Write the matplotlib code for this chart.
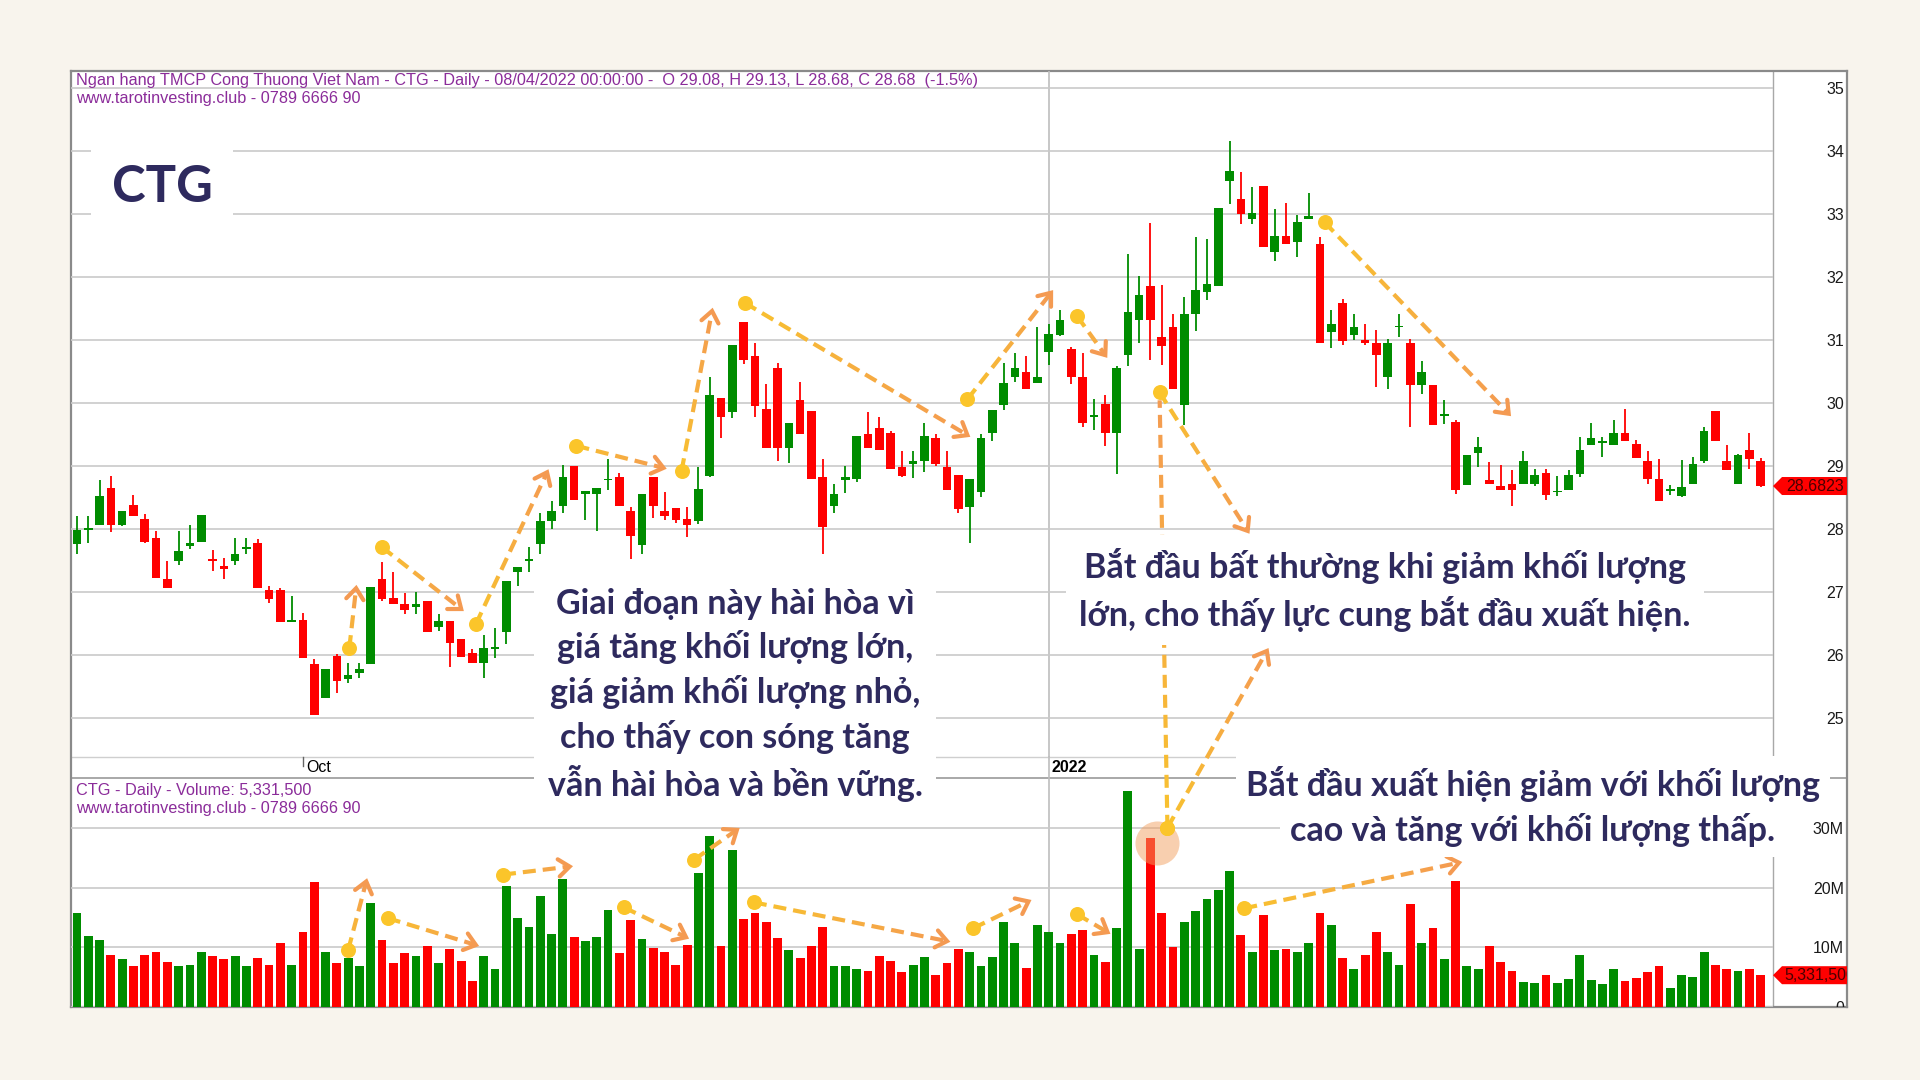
import numpy as np
import matplotlib
matplotlib.use("Agg")
import matplotlib.pyplot as plt
from matplotlib.collections import LineCollection
from matplotlib.lines import Line2D
from matplotlib.patches import Polygon
from matplotlib.transforms import IdentityTransform, blended_transform_factory
from matplotlib.colors import to_rgb

plt.rcParams['font.family'] = ['Liberation Sans', 'DejaVu Sans']

# ---- du lieu CTG: gia (nghin dong), khoi luong (trieu cp) ----
gia_mo = [27.76, 27.98, 28.06, 28.65, 28.06, 28.38, 28.16, 27.86, 27.21, 27.50,
          27.73, 27.80, 27.52, 27.42, 27.50, 27.68, 27.77, 27.03, 27.03, 26.53,
          26.55, 25.86, 25.32, 25.98, 25.62, 25.71, 25.85, 27.21, 26.90, 26.81,
          26.76, 26.85, 26.45, 26.54, 26.25, 26.03, 25.88, 26.10, 26.36, 27.32,
          27.50, 27.76, 28.12, 28.37, 29.00, 28.55, 28.55, 28.77, 28.82, 28.29,
          27.74, 28.82, 28.29, 28.34, 28.16, 28.12, 28.84, 30.08, 29.86, 31.28,
          30.74, 29.90, 30.56, 29.29, 30.05, 29.87, 28.82, 28.37, 28.78, 28.80,
          29.51, 29.60, 29.53, 28.98, 29.03, 29.08, 29.44, 28.99, 28.85, 28.35,
          28.58, 29.53, 29.97, 30.42, 30.50, 30.32, 30.81, 31.08, 30.86, 30.42,
          29.78, 29.98, 29.52, 30.76, 31.32, 31.86, 31.04, 31.21, 29.97, 31.41,
          31.76, 31.85, 33.53, 33.24, 32.92, 33.45, 32.39, 32.65, 32.56, 32.92,
          32.52, 31.12, 31.58, 31.08, 31.00, 30.95, 30.41, 31.20, 30.95, 30.29,
          30.29, 29.79, 29.70, 28.70, 29.20, 28.77, 28.68, 28.71, 28.71, 28.71,
          28.89, 28.58, 28.62, 28.88, 29.34, 29.36, 29.34, 29.53, 29.35, 29.08,
          28.79, 28.61, 28.52, 28.71, 29.08, 29.88, 29.08, 28.71, 29.25, 29.08]
gia_cao = [28.20, 28.20, 28.78, 28.84, 28.29, 28.54, 28.24, 27.97, 27.49, 27.97,
           28.06, 28.22, 27.67, 27.54, 27.85, 27.85, 27.84, 27.09, 27.06, 26.93,
           26.66, 25.93, 25.78, 26.01, 25.87, 25.87, 27.08, 27.48, 27.31, 26.98,
           27.00, 26.85, 26.65, 26.54, 26.25, 26.09, 26.32, 26.43, 27.17, 27.39,
           27.72, 28.26, 28.44, 29.02, 29.00, 28.61, 28.65, 29.11, 28.89, 28.35,
           28.56, 28.82, 28.59, 28.34, 28.35, 28.98, 30.42, 30.08, 30.92, 31.28,
           30.96, 30.30, 30.63, 29.69, 30.33, 29.87, 29.11, 28.71, 29.00, 29.48,
           29.85, 29.77, 29.56, 29.24, 29.24, 29.69, 29.51, 29.24, 28.85, 28.80,
           29.51, 29.89, 30.63, 30.80, 30.75, 31.20, 31.25, 31.48, 30.89, 30.80,
           30.07, 30.13, 30.58, 32.37, 32.02, 32.86, 31.87, 31.42, 31.69, 32.64,
           32.60, 33.09, 34.16, 33.66, 33.43, 33.45, 33.08, 33.17, 32.98, 33.34,
           32.63, 31.48, 31.65, 31.42, 31.25, 31.16, 31.01, 31.42, 31.01, 30.66,
           30.29, 30.04, 29.73, 29.17, 29.46, 29.07, 29.01, 28.93, 29.24, 28.96,
           28.96, 28.84, 28.93, 29.46, 29.69, 29.46, 29.73, 29.90, 29.42, 29.24,
           29.11, 28.70, 29.10, 29.15, 29.62, 29.88, 29.33, 29.19, 29.52, 29.13]
gia_thap = [27.60, 27.78, 28.06, 27.96, 28.05, 28.21, 27.78, 27.23, 27.07, 27.43,
            27.69, 27.80, 27.34, 27.21, 27.43, 27.60, 27.07, 26.82, 26.53, 26.53,
            25.96, 25.05, 25.32, 25.39, 25.56, 25.64, 25.85, 26.86, 26.81, 26.65,
            26.65, 26.36, 26.38, 25.81, 25.97, 25.88, 25.64, 25.96, 26.17, 27.10,
            27.31, 27.60, 28.00, 28.26, 28.46, 28.14, 27.97, 28.62, 28.37, 27.52,
            27.60, 28.17, 28.14, 28.09, 27.88, 28.08, 28.83, 29.44, 29.76, 30.62,
            29.78, 29.29, 29.08, 29.04, 29.51, 28.80, 27.60, 28.26, 28.57, 28.74,
            29.29, 29.25, 28.96, 28.82, 28.81, 28.91, 29.00, 28.62, 28.25, 27.78,
            28.51, 29.40, 29.89, 30.34, 30.23, 30.32, 30.60, 31.06, 30.30, 29.62,
            29.57, 29.31, 28.87, 30.58, 30.96, 30.69, 30.60, 30.22, 29.65, 31.14,
            31.63, 31.85, 33.16, 32.84, 32.84, 32.47, 32.25, 32.52, 32.31, 32.92,
            30.95, 30.87, 30.92, 31.00, 30.92, 30.25, 30.22, 31.05, 29.62, 30.15,
            29.65, 29.66, 28.56, 28.70, 28.99, 28.71, 28.62, 28.37, 28.71, 28.68,
            28.46, 28.52, 28.62, 28.83, 29.34, 29.14, 29.34, 29.39, 29.12, 28.72,
            28.44, 28.54, 28.51, 28.71, 29.04, 29.39, 28.94, 28.71, 28.95, 28.67]
gia_dong = [27.98, 28.00, 28.52, 28.06, 28.29, 28.21, 27.80, 27.23, 27.07, 27.65,
            27.77, 28.22, 27.50, 27.37, 27.60, 27.69, 27.07, 26.89, 26.53, 26.55,
            25.96, 25.05, 25.77, 25.59, 25.68, 25.77, 27.08, 26.89, 26.81, 26.71,
            26.81, 26.36, 26.54, 26.19, 25.97, 25.88, 26.11, 26.11, 27.17, 27.39,
            27.51, 28.13, 28.29, 28.82, 28.46, 28.61, 28.65, 28.78, 28.37, 27.89,
            28.56, 28.37, 28.21, 28.15, 28.06, 28.64, 30.13, 29.77, 30.92, 30.69,
            29.95, 29.29, 29.29, 29.69, 29.51, 28.80, 28.03, 28.56, 28.82, 29.48,
            29.29, 29.25, 28.96, 28.84, 29.08, 29.48, 29.03, 28.62, 28.32, 28.80,
            29.44, 29.89, 30.32, 30.56, 30.23, 30.42, 31.09, 31.32, 30.42, 29.69,
            29.80, 29.52, 30.56, 31.45, 31.71, 31.32, 30.91, 30.22, 31.41, 31.79,
            31.89, 33.09, 33.68, 33.00, 33.01, 32.47, 32.65, 32.52, 32.88, 32.97,
            30.95, 31.26, 30.99, 31.21, 30.95, 30.76, 30.95, 31.22, 30.29, 30.50,
            29.65, 29.81, 28.62, 29.17, 29.30, 28.71, 28.62, 28.62, 29.08, 28.86,
            28.54, 28.59, 28.86, 29.26, 29.44, 29.37, 29.53, 29.39, 29.12, 28.79,
            28.44, 28.62, 28.67, 29.03, 29.56, 29.39, 28.94, 29.17, 29.11, 28.68]
khoi_luong = [15.8, 11.9, 11.2, 8.8, 8.1, 6.9, 8.8, 9.3, 7.5, 6.8,
              7.1, 9.2, 8.6, 8.1, 8.6, 6.8, 8.2, 7.1, 10.7, 7.1,
              12.5, 20.9, 9.2, 7.3, 8.2, 6.9, 17.5, 11.2, 7.3, 9.0,
              8.6, 10.3, 7.3, 9.7, 7.7, 4.4, 8.6, 6.4, 20.3, 14.9,
              13.4, 18.6, 12.3, 21.4, 11.8, 11.0, 11.8, 16.2, 9.0, 14.6,
              11.4, 9.9, 9.3, 7.1, 10.4, 22.4, 28.7, 10.3, 26.3, 14.7,
              15.8, 14.3, 11.6, 9.6, 8.2, 10.3, 13.4, 6.8, 6.8, 6.4,
              6.1, 8.6, 7.7, 5.8, 7.1, 8.4, 5.3, 7.3, 9.7, 9.3,
              6.9, 8.4, 14.2, 10.7, 6.6, 13.8, 12.5, 10.8, 12.3, 12.9,
              8.8, 7.5, 13.2, 36.2, 9.7, 28.3, 15.7, 10.1, 14.3, 16.1,
              18.1, 19.6, 22.8, 12.1, 9.2, 15.4, 9.6, 9.7, 9.3, 10.8,
              15.7, 13.8, 8.2, 6.4, 8.8, 12.5, 9.3, 7.1, 17.2, 10.7,
              13.3, 8.1, 21.1, 6.9, 6.4, 10.3, 7.5, 6.0, 4.2, 4.0,
              5.3, 4.0, 4.7, 8.8, 4.6, 3.8, 6.4, 4.3, 4.9, 5.8,
              6.8, 3.2, 5.4, 5.1, 9.2, 7.1, 6.4, 6.1, 6.4, 5.3315]

moc_gia = [25, 26, 27, 28, 29, 30, 31, 32, 33, 34, 35]
moc_kl = [0, 10, 20, 30]
nhan_kl = ['0', '10M', '20M', '30M']
gia_cuoi = 28.6823
nhan_kl_cuoi = '5,331,500'
phien_oct = 20      # phien dau thang 10
phien_2022 = 86     # phien dau nam 2022

tieu_de = ('Ngan hang TMCP Cong Thuong Viet Nam - CTG - Daily - 08/04/2022 00:00:00 -  '
           'O 29.08, H 29.13, L 28.68, C 28.68  (-1.5%)')
tieu_de_kl = 'CTG - Daily - Volume: 5,331,500'
web = 'www.tarotinvesting.club - 0789 6666 90'

# mui ten (diem dau -> diem cuoi): (phien, gia) va (phien, khoi luong)
mui_ten_gia = [((24.1, 26.11), (24.7, 27.06)),
               ((27.0, 27.71), (34.0, 26.73)),
               ((35.3, 26.49), (41.6, 28.90)),
               ((44.2, 29.32), (51.9, 28.97)),
               ((53.5, 28.92), (56.2, 31.46)),
               ((59.1, 31.59), (78.8, 29.49)),
               ((78.8, 30.06), (86.2, 31.75)),
               ((88.5, 31.38), (91.0, 30.76)),
               ((95.8, 30.17), (103.6, 27.97)),
               ((110.4, 32.87), (126.7, 29.83))]
mui_ten_kl = [((24.0, 9.55), (25.6, 21.05)),
              ((27.5, 14.9), (35.3, 10.4)),
              ((37.7, 22.2), (43.6, 23.55)),
              ((48.4, 16.7), (53.9, 11.7)),
              ((54.6, 24.7), (58.4, 29.7)),
              ((59.9, 17.55), (77.0, 11.05)),
              ((79.3, 13.2), (84.2, 17.7)),
              ((88.5, 15.55), (91.2, 12.55)),
              ((96.5, 30.05), (105.3, 59.7)),
              ((103.3, 16.55), (122.3, 24.2))]
noi_gia = (95.8, 30.17)
noi_kl = (96.5, 30.05)
vong_sang = (95.6, 27.55)

txt_1 = ('Giai đoạn này hài hòa vì\ngiá tăng khối lượng lớn,\ngiá giảm khối lượng nhỏ,\n'
         'cho thấy con sóng tăng\nvẫn hài hòa và bền vững.')
txt_2 = 'Bắt đầu bất thường khi giảm khối lượng\nlớn, cho thấy lực cung bắt đầu xuất hiện.'
txt_3a = 'Bắt đầu xuất hiện giảm với khối lượng'
txt_3b = 'cao và tăng với khối lượng thấp.'

# ---- mau sac ----
XANH = '#008c00'
DO = '#ff0000'
LUOI = '#c9c9c9'
TIM = '#8b2c9a'
CHU = '#2e2a5e'
VANG = '#fbc52a'
C0, C1 = '#f8c22e', '#f49a52'
NEN = '#f8f4ed'

W, H = 1920, 1080
L_, T_, R_, B_ = 71, 71, 1847, 1007
PR = 1773
P_BOT, V_TOP = 757, 778


def rect(l, t, r, b):
    return [l / W, 1 - b / H, (r - l) / W, (b - t) / H]


fig = plt.figure(figsize=(19.2, 10.8), dpi=100, facecolor=NEN)

khung = fig.add_axes(rect(L_, T_, R_, B_))
khung.set_facecolor('white')
khung.set_xticks([])
khung.set_yticks([])
khung.set_xlim(L_, R_)
khung.set_ylim(B_, T_)
for s in khung.spines.values():
    s.set_color('#8a8a8a')
    s.set_linewidth(1.6)
khung.plot([PR, PR], [T_, B_], color='#a8a8a8', lw=1)
khung.plot([L_, PR], [P_BOT, P_BOT], color='#cfcfcf', lw=1)
khung.plot([L_, R_], [V_TOP, V_TOP], color='#9a9a9a', lw=1.2)

ax_p = fig.add_axes(rect(L_, T_, PR, P_BOT))
ax_v = fig.add_axes(rect(L_, V_TOP, PR, B_))

x = np.arange(len(gia_dong))
o = np.array(gia_mo)
c = np.array(gia_dong)
tang = c >= o
mau = np.where(tang, XANH, DO)

for ax in (ax_p, ax_v):
    ax.set_facecolor('none')
    ax.set_xlim(-0.53, 150.09)
    ax.set_xticks([])
    for s in ax.spines.values():
        s.set_visible(False)
    ax.yaxis.tick_right()
    ax.tick_params(axis='y', length=0, pad=51, labelsize=11.5, labelcolor='#1a1a1a')
    ax.axvline(phien_2022, color='#bdbdbd', lw=1.2, zorder=0.5)

ax_p.set_ylim(24.381, 35.27)
ax_p.set_yticks(moc_gia)
ax_p.grid(axis='y', color=LUOI, lw=1.2, zorder=0)
ax_p.vlines(x, gia_thap, gia_cao, colors=mau, lw=1.3, zorder=2)
than = np.maximum(np.abs(c - o), 0.03)
ax_p.bar(x, than, bottom=np.minimum(o, c), width=0.76, color=mau, zorder=3)

ax_v.set_ylim(0.2, 38.4)
ax_v.set_yticks(moc_kl)
ax_v.set_yticklabels(nhan_kl)
ax_v.grid(axis='y', color=LUOI, lw=1.2, zorder=0)
ax_v.bar(x, khoi_luong, width=0.78, color=mau, zorder=2)

for ax in (ax_p, ax_v):
    for t in ax.get_yticklabels():
        t.set_ha('right')
        t.set_clip_on(True)
        t.set_clip_box(khung.bbox)

# truc thoi gian
bt = blended_transform_factory(ax_p.transData, ax_p.transAxes)
dy = 1.0 / (P_BOT - T_)
ax_p.plot([phien_2022, phien_2022], [0, -(V_TOP - P_BOT) * dy], transform=bt, color='#bdbdbd',
          lw=1.2, clip_on=False)
ax_p.plot([phien_oct, phien_oct], [0, -9 * dy], transform=bt, color='#666666', lw=1, clip_on=False)
ax_p.text(phien_oct + 0.3, -11 * dy, 'Oct', transform=bt, fontsize=11.5, va='center', ha='left')
ax_p.text(phien_2022 + 0.2, -11 * dy, '2022', transform=bt, fontsize=11.5, va='center', ha='left',
          fontweight='bold')

# tieu de
for yy, s in ((80, tieu_de), (99, web), (790, tieu_de_kl), (809, web)):
    fig.text(76 / W, 1 - yy / H, s, color=TIM, fontsize=11.7, va='center')

# nhan gia / khoi luong cuoi
ID = IdentityTransform()
for ax, val, txt, canh in ((ax_p, gia_cuoi, '28.6823', 'right'), (ax_v, khoi_luong[-1], nhan_kl_cuoi, 'left')):
    yd = ax.transData.transform((0, val))[1]
    x0, x1 = ax.bbox.x1, khung.bbox.x1
    poly = Polygon([(x0, yd), (x0 + 9, yd + 9), (x1, yd + 9), (x1, yd - 9), (x0 + 9, yd - 9)],
                   closed=True, fc=DO, ec='none', transform=ID, zorder=4)
    fig.add_artist(poly)
    tx = x1 - 3 if canh == 'right' else x0 + 11
    t = fig.text(tx, yd, txt, transform=ID, ha=canh, va='center', fontsize=11.5, color='#4a0000',
                 zorder=5)
    t.set_clip_on(True)
    t.set_clip_box(khung.bbox)

# ---- mui ten net dut chuyen mau ----
DASH, GAP, LW, HEAD = 13.0, 7.0, 3.0, 14.0


def mix(t):
    a, b = np.array(to_rgb(C0)), np.array(to_rgb(C1))
    return tuple(a + (b - a) * t)


def net_dut(ax, a, b, head=True, cat=0.0):
    a, b = np.asarray(a, float), np.asarray(b, float)
    d = b - a
    dai = np.hypot(*d)
    u = d / dai
    segs, cols = [], []
    s = 0.0
    while s < dai - cat:
        e = min(s + DASH, dai - cat)
        segs.append([a + u * s, a + u * e])
        cols.append(mix((s + e) / 2 / dai))
        s += DASH + GAP
    ax.add_collection(LineCollection(segs, colors=cols, linewidths=LW, transform=ID, clip_on=False,
                                     capstyle='butt', zorder=6), autolim=False)
    if head:
        pts = []
        for g in (38, -38):
            r = np.radians(g)
            rot = np.array([[np.cos(r), -np.sin(r)], [np.sin(r), np.cos(r)]])
            pts.append(b + rot @ (-u) * HEAD)
        ax.add_line(Line2D([pts[0][0], b[0], pts[1][0]], [pts[0][1], b[1], pts[1][1]], transform=ID,
                           color=C1, lw=LW, solid_capstyle='round', solid_joinstyle='miter',
                           clip_on=False, zorder=6))


for ax, ds in ((ax_p, mui_ten_gia), (ax_v, mui_ten_kl)):
    for p0, p1 in ds:
        net_dut(ax, ax.transData.transform(p0), ax.transData.transform(p1))
        ax.plot(*p0, 'o', ms=10.8, color=VANG, mec='none', zorder=7, clip_on=False)

ax_v.plot(*vong_sang, 'o', ms=31.7, color='#f2a060', alpha=0.5, mec='none', zorder=5, clip_on=False)
net_dut(ax_v, ax_v.transData.transform(noi_kl), ax_p.transData.transform(noi_gia), head=False, cat=8)
ax_v.plot(*noi_kl, 'o', ms=10.8, color=VANG, mec='none', zorder=7, clip_on=False)

# ---- chu thich ----
hop = dict(boxstyle='square,pad=0.4', fc='white', ec='none')
kieu = dict(family=['Lato', 'Noto Sans', 'DejaVu Sans'], fontweight='bold', color=CHU, ha='center',
            va='center', multialignment='center', zorder=10, bbox=hop)
fig.text(735 / W, 1 - 695 / H, txt_1, fontsize=24.5, linespacing=1.38, **kieu)
fig.text(1385 / W, 1 - 590 / H, txt_2, fontsize=24.5, linespacing=1.38, **kieu)
hop_dong = dict(boxstyle='square,pad=0.3', fc='white', ec='none')
kieu_dong = dict(kieu, bbox=hop_dong)
fig.text(1533 / W, 1 - 784 / H, txt_3a, fontsize=24.5, **kieu_dong)
fig.text(1533 / W, 1 - 830 / H, txt_3b, fontsize=24.5, **kieu_dong)
fig.text(162 / W, 1 - 187 / H, 'CTG', fontsize=36.5, **kieu)

fig.savefig('out.png', dpi=100, facecolor=NEN)
